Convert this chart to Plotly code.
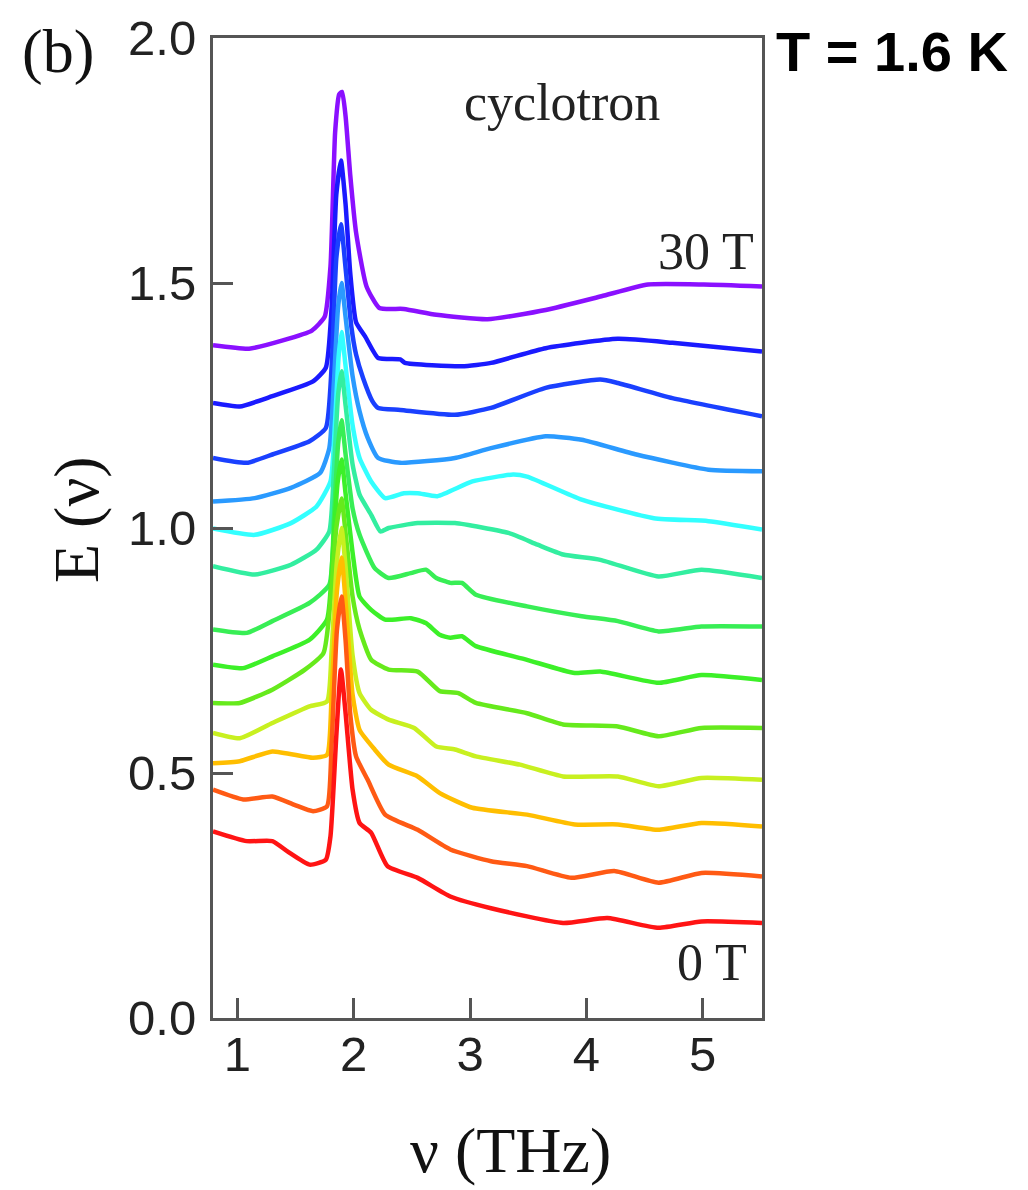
import plotly.graph_objects as go

# ---- data (frequency in THz, E(nu) offset spectra) ----
fields = ["30 T", "27.5 T", "25 T", "22.5 T", "20 T", "17.5 T", "15 T",
          "12.5 T", "10 T", "7.5 T", "5 T", "2.5 T", "0 T"]
colors = ["#8a10ff", "#1a1aff", "#1a40ff", "#2a9aff", "#33ffff", "#33eea0",
          "#38ee55", "#3cf028", "#66ea1c", "#c8f020", "#ffbe00", "#ff5a14", "#ff1414"]

x30 = [0.79, 1.10, 1.39, 1.64, 1.75, 1.80, 1.84, 1.875, 1.90, 1.93, 1.97, 2.02, 2.11, 2.22, 2.43, 2.71, 3.15, 3.65, 4.13, 4.53, 5.01, 5.51]
y30 = [1.373, 1.366, 1.383, 1.403, 1.431, 1.534, 1.808, 1.885, 1.89, 1.84, 1.72, 1.603, 1.493, 1.449, 1.447, 1.435, 1.426, 1.445, 1.473, 1.497, 1.497, 1.493]

x275 = [0.79, 1.02, 1.30, 1.65, 1.76, 1.81, 1.85, 1.89, 1.93, 1.97, 2.02, 2.10, 2.21, 2.40, 2.44, 2.93, 3.18, 3.65, 4.27, 4.74, 5.51]
y275 = [1.255, 1.248, 1.269, 1.299, 1.327, 1.45, 1.68, 1.75, 1.66, 1.52, 1.42, 1.39, 1.347, 1.344, 1.337, 1.33, 1.337, 1.367, 1.386, 1.378, 1.36]

x25 = [0.79, 1.08, 1.30, 1.62, 1.76, 1.81, 1.85, 1.89, 1.93, 1.98, 2.02, 2.08, 2.16, 2.21, 2.40, 2.87, 3.18, 3.65, 4.12, 4.27, 4.74, 5.51]
y25 = [1.143, 1.133, 1.15, 1.177, 1.204, 1.33, 1.55, 1.62, 1.53, 1.41, 1.354, 1.306, 1.259, 1.245, 1.241, 1.231, 1.245, 1.286, 1.303, 1.296, 1.265, 1.228]

x225 = [0.79, 1.15, 1.46, 1.71, 1.79, 1.83, 1.865, 1.895, 1.93, 1.99, 2.05, 2.12, 2.21, 2.40, 2.87, 3.18, 3.65, 3.96, 4.43, 5.05, 5.51]
y225 = [1.054, 1.061, 1.082, 1.112, 1.163, 1.30, 1.45, 1.50, 1.43, 1.31, 1.238, 1.184, 1.143, 1.133, 1.143, 1.163, 1.187, 1.18, 1.15, 1.119, 1.116]

x20 = [0.79, 1.15, 1.46, 1.68, 1.80, 1.84, 1.87, 1.895, 1.93, 1.99, 2.05, 2.15, 2.27, 2.43, 2.55, 2.72, 3.02, 3.37, 3.49, 3.96, 4.58, 5.05, 5.51]
y20 = [0.999, 0.986, 1.01, 1.044, 1.095, 1.22, 1.35, 1.40, 1.33, 1.21, 1.143, 1.095, 1.061, 1.071, 1.071, 1.065, 1.095, 1.109, 1.105, 1.058, 1.02, 1.014, 0.997]

x175 = [0.79, 1.15, 1.46, 1.68, 1.79, 1.83, 1.865, 1.895, 1.93, 1.99, 2.05, 2.15, 2.23, 2.30, 2.55, 2.87, 3.33, 3.58, 3.80, 4.12, 4.62, 4.99, 5.51]
y175 = [0.922, 0.905, 0.925, 0.956, 0.993, 1.12, 1.27, 1.32, 1.25, 1.13, 1.068, 1.027, 0.993, 1.0, 1.01, 1.01, 0.99, 0.966, 0.946, 0.935, 0.901, 0.915, 0.898]

x15 = [0.79, 1.08, 1.30, 1.62, 1.79, 1.83, 1.865, 1.895, 1.93, 1.99, 2.05, 2.18, 2.30, 2.49, 2.62, 2.71, 2.83, 2.93, 3.05, 3.49, 3.96, 4.27, 4.62, 4.99, 5.51]
y15 = [0.793, 0.786, 0.81, 0.847, 0.884, 1.02, 1.17, 1.22, 1.15, 1.04, 0.986, 0.918, 0.898, 0.908, 0.915, 0.898, 0.888, 0.888, 0.864, 0.84, 0.82, 0.81, 0.789, 0.799, 0.799]

x125 = [0.79, 1.05, 1.30, 1.62, 1.77, 1.82, 1.86, 1.895, 1.93, 1.99, 2.05, 2.15, 2.27, 2.49, 2.62, 2.74, 2.83, 2.93, 3.05, 3.49, 3.90, 4.12, 4.62, 4.99, 5.51]
y125 = [0.721, 0.714, 0.738, 0.772, 0.813, 0.95, 1.09, 1.14, 1.07, 0.95, 0.86, 0.833, 0.813, 0.816, 0.806, 0.782, 0.776, 0.779, 0.759, 0.731, 0.704, 0.707, 0.684, 0.70, 0.69]

x10 = [0.79, 1.02, 1.30, 1.58, 1.74, 1.80, 1.85, 1.895, 1.93, 1.99, 2.05, 2.15, 2.30, 2.55, 2.74, 2.90, 3.05, 3.49, 3.80, 4.27, 4.62, 4.99, 5.51]
y10 = [0.643, 0.643, 0.67, 0.711, 0.745, 0.85, 1.00, 1.06, 0.99, 0.86, 0.793, 0.731, 0.711, 0.707, 0.667, 0.663, 0.643, 0.622, 0.599, 0.595, 0.575, 0.592, 0.592]

x75 = [0.79, 1.02, 1.30, 1.62, 1.77, 1.81, 1.855, 1.895, 1.93, 1.99, 2.05, 2.15, 2.30, 2.52, 2.71, 2.87, 3.05, 3.43, 3.80, 4.27, 4.62, 4.99, 5.51]
y75 = [0.582, 0.571, 0.602, 0.636, 0.646, 0.75, 0.93, 1.00, 0.92, 0.74, 0.663, 0.629, 0.609, 0.592, 0.554, 0.548, 0.534, 0.517, 0.493, 0.493, 0.473, 0.49, 0.486]

x5 = [0.79, 1.02, 1.30, 1.65, 1.77, 1.81, 1.855, 1.895, 1.93, 1.99, 2.05, 2.18, 2.30, 2.55, 2.74, 3.02, 3.49, 3.90, 4.27, 4.62, 4.99, 5.51]
y5 = [0.52, 0.524, 0.544, 0.531, 0.537, 0.66, 0.87, 0.94, 0.85, 0.66, 0.588, 0.548, 0.517, 0.493, 0.459, 0.429, 0.415, 0.395, 0.395, 0.384, 0.398, 0.391]

x25b = [0.79, 1.05, 1.30, 1.49, 1.65, 1.77, 1.81, 1.855, 1.895, 1.93, 1.97, 2.02, 2.12, 2.27, 2.55, 2.83, 3.18, 3.49, 3.87, 4.24, 4.62, 4.99, 5.51]
y25b = [0.466, 0.446, 0.452, 0.435, 0.422, 0.432, 0.56, 0.79, 0.86, 0.77, 0.62, 0.534, 0.486, 0.415, 0.384, 0.344, 0.32, 0.31, 0.286, 0.30, 0.276, 0.296, 0.289]

x0 = [0.79, 1.08, 1.30, 1.43, 1.62, 1.76, 1.80, 1.85, 1.89, 1.93, 1.99, 2.05, 2.15, 2.29, 2.55, 2.83, 3.18, 3.80, 4.18, 4.62, 4.99, 5.51]
y0 = [0.381, 0.361, 0.361, 0.34, 0.313, 0.323, 0.371, 0.575, 0.711, 0.622, 0.466, 0.398, 0.378, 0.31, 0.286, 0.248, 0.224, 0.194, 0.204, 0.184, 0.197, 0.194]

xs = [x30, x275, x25, x225, x20, x175, x15, x125, x10, x75, x5, x25b, x0]
ys = [y30, y275, y25, y225, y20, y175, y15, y125, y10, y75, y5, y25b, y0]

x_ticks = [1, 2, 3, 4, 5]
y_ticks = [0.0, 0.5, 1.0, 1.5, 2.0]
y_tick_text = ["0.0", "0.5", "1.0", "1.5", "2.0"]

fig = go.Figure()
for name, c, xv, yv in zip(fields, colors, xs, ys):
    fig.add_trace(go.Scatter(x=xv, y=yv, mode="lines", name=name,
                             line=dict(color=c, width=4.5, shape="spline", smoothing=0.5),
                             showlegend=False))

W, H = 1028, 1190
L, R, T, B = 213, 266, 38, 172
PW, PH = W - L - R, H - T - B

axis_common = dict(showline=True, linecolor="#555555", linewidth=3, mirror=True,
                   ticks="inside", ticklen=20, tickwidth=2.5, tickcolor="#555555",
                   showgrid=False, zeroline=False,
                   tickfont=dict(family="Liberation Sans, Arial, sans-serif", size=49, color="#222222"))

fig.update_layout(
    width=W, height=H,
    margin=dict(l=L, r=R, t=T, b=B, pad=0),
    paper_bgcolor="white", plot_bgcolor="white",
    xaxis=dict(range=[0.79, 5.51], tickvals=x_ticks, ticktext=[str(v) for v in x_ticks],
               ticklabelstandoff=-9, **axis_common),
    yaxis=dict(range=[0, 2.0], tickvals=y_ticks, ticktext=y_tick_text,
               ticklabelstandoff=4, **axis_common),
)

serif = "Liberation Serif, Times New Roman, serif"

def px(xp, yp):
    # convert page pixels to paper coordinates (relative to plot area)
    return ((xp - L) / PW, 1 - (yp - T) / PH)

ann = []
def add(text, xp, yp, size, family, angle=0, color="#111111"):
    ax, ay = px(xp, yp)
    ann.append(dict(text=text, x=ax, y=ay, xref="paper", yref="paper",
                    xanchor="center", yanchor="middle", showarrow=False,
                    textangle=angle, font=dict(family=family, size=size, color=color)))

add("(b)", 58, 52, 62, serif)
add("E (ν)", 76, 520, 64, serif, angle=-90)
add("ν (THz)", 510, 1150, 64, serif)
add("cyclotron", 562, 102, 52, serif, color="#222222")
add("30 T", 706, 252, 52, serif, color="#222222")
add("0 T", 712, 962, 52, serif, color="#222222")
add("<b>T = 1.6 K</b>", 892, 52, 56, "Liberation Sans, Arial, sans-serif", color="#000000")

fig.update_layout(annotations=ann)
fig.write_html("out.html")
